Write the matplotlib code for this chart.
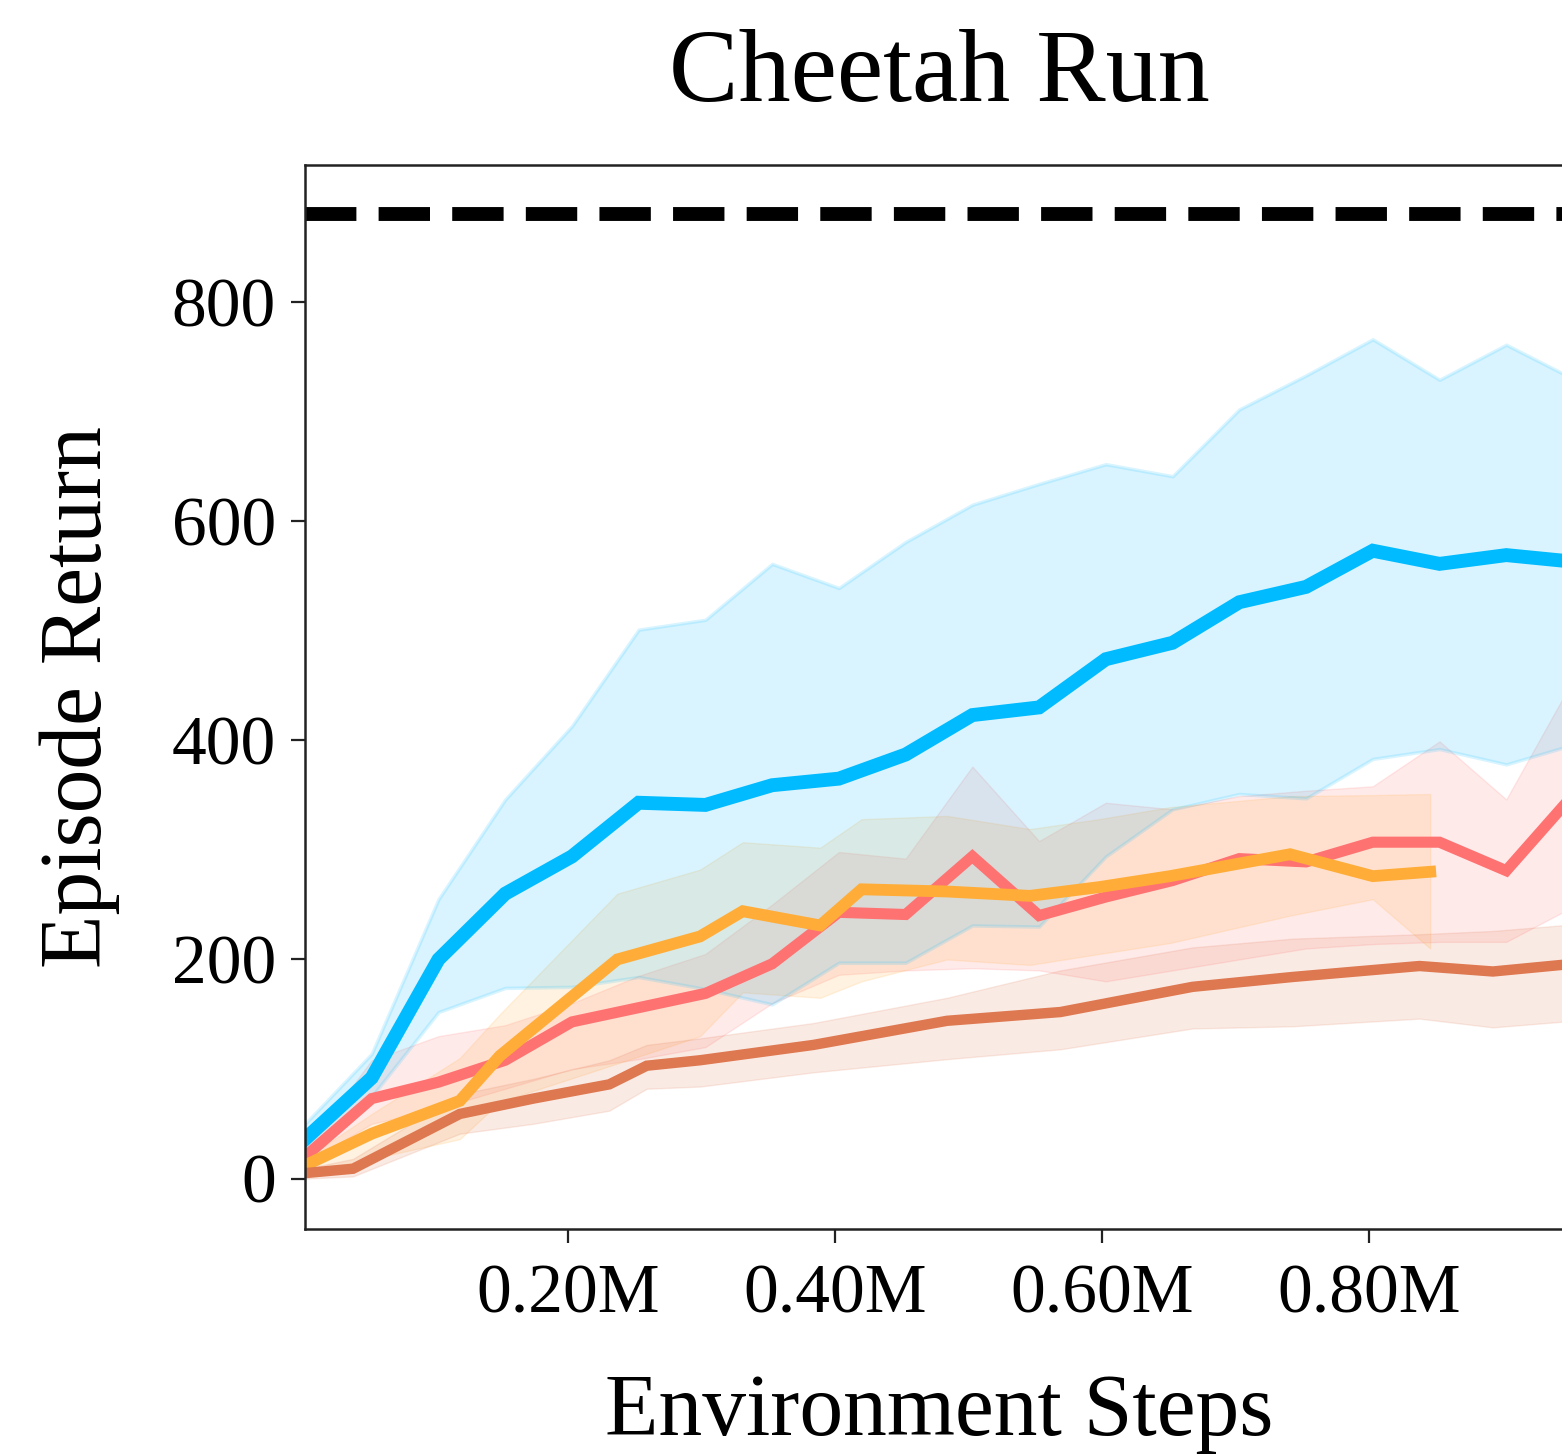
import matplotlib
matplotlib.use("Agg")
import matplotlib.pyplot as plt
from matplotlib.ticker import FuncFormatter

plt.rcParams["font.family"] = ["Liberation Serif", "DejaVu Serif"]

# ── data (env steps in millions, episode return) ───────────────────────────────
steps = [0.003, 0.053, 0.103, 0.153, 0.203, 0.253, 0.303, 0.353, 0.403, 0.453,
         0.503, 0.553, 0.603, 0.653, 0.703, 0.753, 0.803, 0.853, 0.903, 0.953]

blue_mean = [36, 92, 200, 260, 294, 343, 341, 359, 365, 387,
             423, 430, 474, 489, 526, 540, 573, 561, 569, 563]
blue_low  = [25, 75, 152, 174, 175, 184, 173, 159, 197, 197,
             231, 230, 294, 337, 351, 347, 383, 392, 378, 396]
blue_high = [50, 114, 255, 346, 413, 501, 510, 561, 539, 581,
             615, 634, 652, 641, 702, 733, 766, 729, 761, 730]

red_mean = [20, 73, 88, 108, 143, 156, 169, 196, 243, 241,
            294, 240, 257, 272, 292, 289, 307, 307, 281, 350]
red_low  = [14, 50, 64, 82, 100, 109, 120, 160, 186, 190,
            192, 190, 180, 190, 200, 210, 214, 216, 216, 248]
red_high = [27, 108, 130, 140, 160, 185, 205, 250, 298, 292,
            376, 308, 343, 337, 349, 354, 358, 399, 346, 455]

orange_steps = [0.003, 0.053, 0.119, 0.149, 0.237, 0.299, 0.331, 0.389,
                0.420, 0.484, 0.546, 0.598, 0.651, 0.741, 0.803, 0.846]
orange_mean = [12, 41, 71, 112, 200, 221, 244, 231,
               264, 262, 258, 266, 276, 296, 276, 280]
orange_low  = [5, 18, 36, 70, 105, 130, 170, 165,
               180, 200, 195, 205, 215, 240, 255, 210]
orange_high = [18, 59, 110, 150, 260, 282, 307, 302,
               328, 331, 319, 328, 339, 349, 350, 351]

brown_steps = [0.003, 0.039, 0.119, 0.174, 0.231, 0.259, 0.299, 0.384,
               0.484, 0.569, 0.668, 0.743, 0.838, 0.893, 0.953]
brown_mean = [5, 9, 59, 73, 86, 103, 108, 122, 144, 152, 175, 184, 194, 189, 196]
brown_low  = [0, 2, 41, 50, 62, 82, 84, 97, 109, 118, 137, 139, 146, 138, 144]
brown_high = [9, 18, 77, 91, 108, 122, 128, 142, 165, 190, 211, 219, 223, 226, 232]

expert_return = 880

BLUE   = "#00BBFF"
RED    = "#FF7272"
ORANGE = "#FFAD38"
BROWN  = "#DE7850"

# ── figure ─────────────────────────────────────────────────────────────────────
W, H = 1562, 1454
fig = plt.figure(figsize=(W / 100, H / 100), dpi=100)
ax = fig.add_axes([305 / W, 1 - 1229 / H, (1573 - 305) / W, (1229 - 165) / H])

ax.plot(steps, red_mean, color=RED, lw=8, solid_joinstyle="miter")
ax.fill_between(steps, red_low, red_high, color=RED, alpha=0.15, lw=1)

ax.plot(orange_steps, orange_mean, color=ORANGE, lw=8.5, solid_joinstyle="miter")
ax.fill_between(orange_steps, orange_low, orange_high, color=ORANGE, alpha=0.15, lw=1)

ax.plot(brown_steps, brown_mean, color=BROWN, lw=7.5, solid_joinstyle="miter")
ax.fill_between(brown_steps, brown_low, brown_high, color=BROWN, alpha=0.15, lw=1)

ax.fill_between(steps, blue_low, blue_high, color=BLUE, alpha=0.15, lw=2.5)
ax.plot(steps, blue_mean, color=BLUE, lw=10, solid_joinstyle="miter")

ax.axhline(expert_return, color="black", lw=10, ls="--")

ax.set_xlim(steps[0], steps[-1])
ax.set_ylim(-46, 925)
ax.set_xticks([0.2, 0.4, 0.6, 0.8])
ax.set_yticks([0, 200, 400, 600, 800])
ax.xaxis.set_major_formatter(FuncFormatter(lambda v, _: f"{v:.2f}M"))
ax.tick_params(labelsize=50, length=10, width=1.6, color="#222222")
ax.tick_params(axis="x", pad=15)
ax.tick_params(axis="y", pad=11)
for sp in ax.spines.values():
    sp.set_color("#222222")
    sp.set_linewidth(1.8)

fig.text(939 / W, 1 - 101 / H, "Cheetah Run", fontsize=75, ha="center", va="baseline")
fig.text(939 / W, 1 - 1435 / H, "Environment Steps", fontsize=63, ha="center", va="baseline")
fig.text(101 / W, 1 - 697 / H, "Episode Return", fontsize=63, rotation=90,
         rotation_mode="anchor", ha="center", va="baseline")

fig.savefig("out.png", dpi=100)
